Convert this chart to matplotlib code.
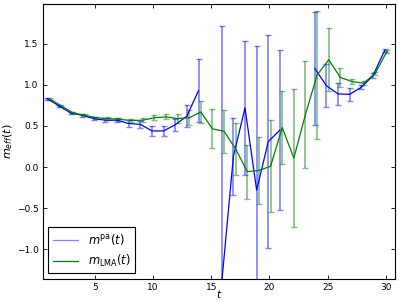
import numpy as np
import matplotlib
matplotlib.use("Agg")
import matplotlib.pyplot as plt

# time slices
t = np.arange(1, 31)

# m^pa(t): nan where the estimate is missing
m_pa = [0.83, 0.745, 0.66, 0.63, 0.59, 0.57, 0.57, 0.53, 0.52, 0.44,
        0.44, 0.515, 0.62, 0.93, np.nan, -1.40, 0.13, 0.72, -0.28, 0.31,
        0.45, np.nan, np.nan, 1.20, 0.99, 0.89, 0.885, 0.97, 1.11, 1.415]
m_pa_err = [0.015, 0.015, 0.015, 0.015, 0.02, 0.025, 0.025, 0.04, 0.04, 0.065,
            0.065, 0.07, 0.13, 0.38, np.nan, 3.12, 0.47, 0.81, 1.75, 1.29,
            0.97, np.nan, np.nan, 0.69, 0.26, 0.13, 0.077, 0.025, 0.03, 0.015]

# m_LMA(t)
m_lma = [0.83, 0.745, 0.66, 0.63, 0.60, 0.59, 0.58, 0.567, 0.57, 0.60,
         0.61, 0.59, 0.60, 0.67, 0.466, 0.435, 0.22, -0.055, -0.04, 0.01,
         0.48, 0.11, 0.64, 1.12, 1.305, 1.09, 1.04, 1.02, 1.14, 1.405]
m_lma_err = [0.01, 0.01, 0.01, 0.01, 0.015, 0.015, 0.015, 0.02, 0.025, 0.03,
             0.03, 0.05, 0.09, 0.13, 0.235, 0.265, 0.32, 0.33, 0.41, 0.56,
             0.44, 0.84, 0.655, 0.78, 0.385, 0.12, 0.03, 0.025, 0.02, 0.015]

shift = 0.1

fig = plt.figure(figsize=(3.99, 3.01), dpi=100)
ax = fig.add_axes([0.107, 0.073, 0.883, 0.913])

# error bars, lighter than the lines
ax.errorbar(t - shift, m_pa, yerr=m_pa_err, fmt='none', ecolor='b',
            elinewidth=1.2, capsize=2, alpha=0.5)
ax.errorbar(t + shift, m_lma, yerr=m_lma_err, fmt='none', ecolor='g',
            elinewidth=1.2, capsize=2, alpha=0.5)

ax.plot(t - shift, m_pa, '-', color='b', lw=0.9, label=r'$m^{\rm pa}(t)$')
ax.plot(t + shift, m_lma, '-', color='g', lw=0.9, label=r'$m_{\rm LMA}(t)$')

ax.set_xlim(0.5, 30.8)
ax.set_ylim(-1.36, 1.98)
ax.set_xticks([5, 10, 15, 20, 25, 30])
ax.set_yticks([-1.0, -0.5, 0.0, 0.5, 1.0, 1.5])
ax.tick_params(direction='in', top=True, right=True, labelsize=6.5,
               length=3, width=0.6, pad=3)
for s in ax.spines.values():
    s.set_linewidth(0.8)

ax.set_xlabel(r'$t$', fontsize=7.5)
ax.xaxis.set_label_coords(0.5, -0.034)
ax.set_ylabel(r'$m_{eff}(t)$', fontsize=8, labelpad=1.5)

leg = ax.legend(loc='lower left', fontsize=8.3, fancybox=False,
                framealpha=1, edgecolor='k', borderaxespad=0.5,
                handlelength=2.2)
leg.get_frame().set_linewidth(0.8)
leg.get_lines()[0].set_alpha(0.5)

fig.savefig('out.png', dpi=100)
